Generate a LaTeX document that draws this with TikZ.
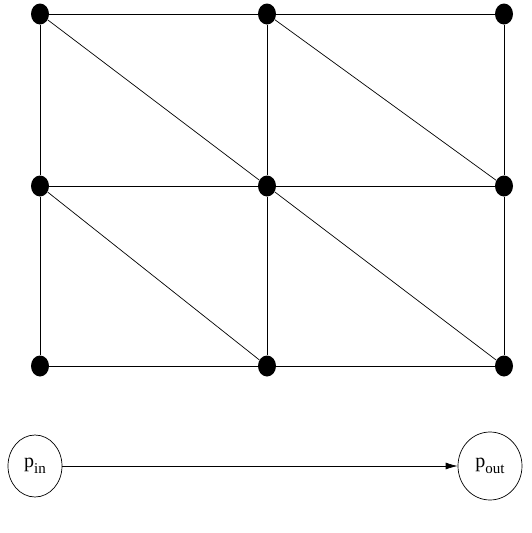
\documentclass[tikz,border=0pt]{standalone}
\usepackage{fontspec}
\setmainfont{Liberation Serif}
\usetikzlibrary{shapes.geometric,arrows.meta}
\newcommand{\placesub}[1]{\raisebox{-6pt}{\fontsize{15}{15}\selectfont #1}}
\tikzset{
  dot/.style={ellipse,fill=black,inner sep=0pt,minimum width=18pt,minimum height=21pt},
  place/.style={ellipse,draw,inner sep=0pt,font=\fontsize{20}{20}\selectfont}
}

\begin{document}
\begin{tikzpicture}[x=1pt,y=-1pt,line width=0.7pt]
      \useasboundingbox (0,0) rectangle (531,533);
      \foreach \col/\x in {a/40,b/267,c/504}
        \foreach \row/\y in {1/14,2/186,3/366}
          \node[dot] (\col\row) at (\x,\y) {};
      \draw (a1) -- (b1) -- (c1);
      \draw (a2) -- (b2) -- (c2);
      \draw (a3) -- (b3) -- (c3);
      \draw (a1) -- (a2) -- (a3);
      \draw (b1) -- (b2) -- (b3);
      \draw (c1) -- (c2) -- (c3);
      \draw (a1) -- (b2);
      \draw (b1) -- (c2);
      \draw (a2) -- (b3);
      \draw (b2) -- (c3);
      \node[place,minimum width=54pt,minimum height=62pt] (pin) at (35,466) {p\placesub{in}};
      \node[place,minimum width=64pt,minimum height=68pt] (pout) at (490,466) {p\placesub{out}};
      \draw[-{Latex[length=12pt,width=7pt]}] (pin) -- (pout);
    \end{tikzpicture}
\end{document}
